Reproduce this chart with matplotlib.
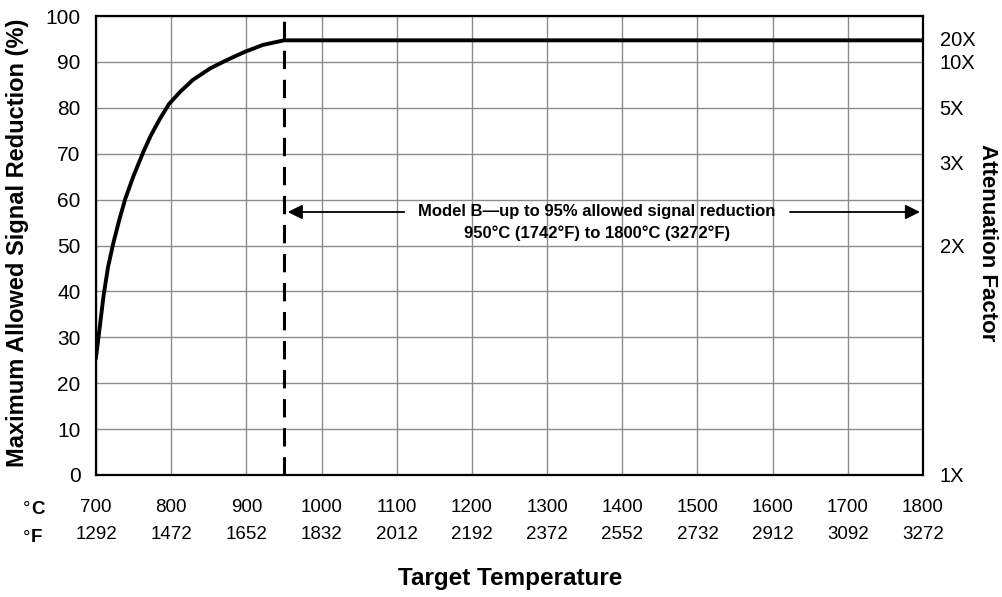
import numpy as np
import matplotlib.pyplot as plt

# curve (deg C, % reduction)
temp_c = [700, 704, 710, 716, 723, 731, 739, 750, 763, 773, 785, 797, 812,
          829, 852, 874, 898, 922, 950, 1800]
reduction = [25.6, 30.9, 39.0, 45.3, 50.5, 55.6, 60.2, 65.2, 70.4, 74.0, 77.6,
             80.8, 83.5, 86.1, 88.6, 90.4, 92.2, 93.7, 94.7, 94.7]

c_ticks = [700, 800, 900, 1000, 1100, 1200, 1300, 1400, 1500, 1600, 1700, 1800]
f_ticks = [1292, 1472, 1652, 1832, 2012, 2192, 2372, 2552, 2732, 2912, 3092, 3272]
y_ticks = [0, 10, 20, 30, 40, 50, 60, 70, 80, 90, 100]

att_pos = [0, 50, 68, 80, 90, 95]
att_labels = ["1X", "2X", "3X", "5X", "10X", "20X"]

model_b_start = 950
model_b_end = 1800

font = ['Liberation Sans', 'DejaVu Sans']

fig = plt.figure(figsize=(10.03, 5.97), dpi=100)
ax = fig.add_axes([96/1003, 1-475/597, (923-96)/1003, (475-16)/597])

ax.set_xlim(700, 1800)
ax.set_ylim(0, 100)
ax.set_xticks(c_ticks)
ax.set_yticks(y_ticks)
ax.grid(True, color='#8c8c8c', lw=1.0)
ax.set_axisbelow(True)
for s in ax.spines.values():
    s.set_linewidth(1.6)
    s.set_color('black')

ax.plot(temp_c, reduction, color='black', lw=2.8, solid_joinstyle='round', zorder=3)
ax.plot([model_b_start, model_b_start], [0, 100], color='black', lw=2.2,
        dashes=(6, 3.5), zorder=3)

ax.set_yticklabels([str(v) for v in y_ticks], fontsize=15, family=font)
ax.tick_params(axis='y', length=0, pad=11)
ax.set_xticklabels(["%d\n%d" % (c, f) for c, f in zip(c_ticks, f_ticks)],
                   fontsize=13.5, family=font)
for lab in ax.get_xticklabels():
    lab.set_linespacing(1.8)
ax.tick_params(axis='x', length=0, pad=17)

fig.text(23/1003, 1-509/597, "°", fontsize=13.5, family=font, ha='left', va='center')
fig.text(31/1003, 1-509/597, "C", fontsize=13.5, family=font, weight='bold', ha='left', va='center')
fig.text(23/1003, 1-538/597, "°", fontsize=13.5, family=font, ha='left', va='center')
fig.text(31/1003, 1-538/597, "F", fontsize=13.5, family=font, weight='bold', ha='left', va='center')

ax2 = ax.twinx()
ax2.set_ylim(0, 100)
ax2.set_yticks(att_pos)
ax2.set_yticklabels(att_labels, fontsize=14.5, family=font)
ax2.tick_params(axis='y', length=0, pad=12)
for s in ax2.spines.values():
    s.set_visible(False)

fig.text(18/1003, 1-243/597, "Maximum Allowed Signal Reduction (%)", rotation=90,
         fontsize=17, weight='bold', family=font, ha='center', va='center')
fig.text(988/1003, 1-243/597, "Attenuation Factor", rotation=-90,
         fontsize=16, weight='bold', family=font, ha='center', va='center')
fig.text(510/1003, 1-578/597, "Target Temperature", fontsize=17.5, weight='bold',
         family=font, ha='center', va='center')

# Model B annotation
arrow_y = 57.3
ax.annotate("", xy=(model_b_start + 5, arrow_y), xytext=(1110, arrow_y),
            arrowprops=dict(arrowstyle='-|>', color='black', lw=1.3,
                            mutation_scale=22, shrinkA=0, shrinkB=0), zorder=4)
ax.annotate("", xy=(model_b_end - 4, arrow_y), xytext=(1623, arrow_y),
            arrowprops=dict(arrowstyle='-|>', color='black', lw=1.3,
                            mutation_scale=22, shrinkA=0, shrinkB=0), zorder=4)
ax.text(1366, arrow_y, "Model B\u2014up to 95% allowed signal reduction",
        fontsize=12, weight='bold', family=font, ha='center', va='center', zorder=4)
ax.text(1366, 52.6, "950°C (1742°F) to 1800°C (3272°F)",
        fontsize=12, weight='bold', family=font, ha='center', va='center', zorder=4)

plt.savefig("out.png", dpi=100)
